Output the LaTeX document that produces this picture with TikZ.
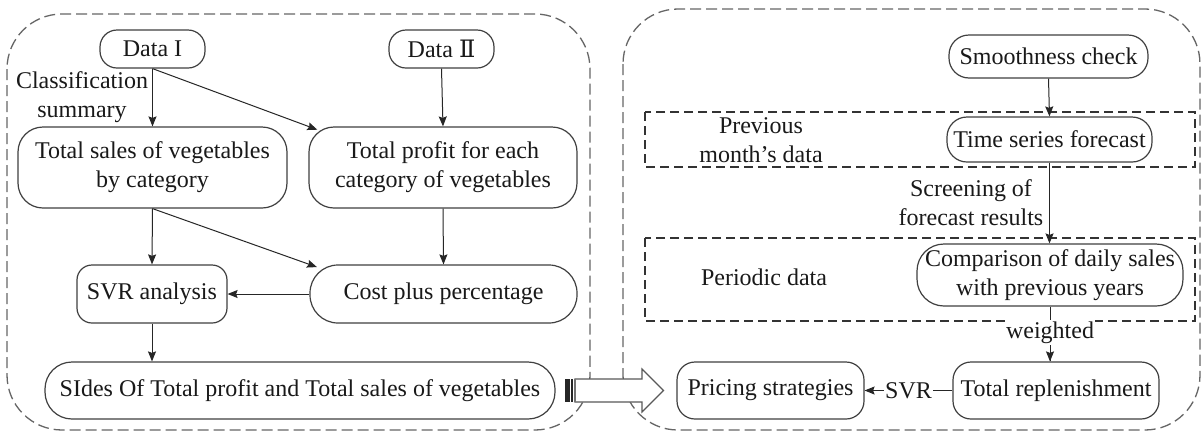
\documentclass[tikz,border=0pt]{standalone}
\usepackage{fontspec}
\setmainfont{Liberation Serif}
\newfontfamily\numfont{DejaVu Serif}
\usetikzlibrary{arrows.meta}
\begin{document}
\begin{tikzpicture}[x=1pt,y=-1pt,
  every node/.style={font=\rmfamily\fontsize{24}{29}\selectfont, align=center, text=black!90},
  nbox/.style={draw=black!75, line width=1.2pt, inner sep=0pt},
  arr/.style={draw=black!85, line width=1pt, -{Stealth[length=10pt,width=8pt,inset=1.5pt]}},
  ln/.style={draw=black!85, line width=1pt},
  outerbox/.style={draw=black!60, line width=1.3pt, dash pattern=on 11pt off 5pt, rounded corners=55pt},
  innerbox/.style={draw=black!80, line width=1.2pt, dash pattern=on 9pt off 5pt},
  lbl/.style={inner sep=1pt},
  onln/.style={fill=white, inner sep=1.5pt}]
\useasboundingbox (0,0) rectangle (1203,432);
\fill[white] (0,0) rectangle (1203,432);

% outer boxes
\draw[outerbox] (7,14) rectangle (590,430);
\draw[outerbox] (623,9) rectangle (1200,430);

% inner dashed rectangles (right)
\draw[innerbox] (645,112) rectangle (1195,167);
\draw[innerbox] (645,238) rectangle (1195,321);

% left nodes
\node[nbox, rounded corners=17pt, minimum width=105pt, minimum height=38pt] (d1) at (152.5,49) {Data I};
\node[nbox, rounded corners=17pt, minimum width=105pt, minimum height=38pt] (d2) at (441.5,49) {Data {\numfont Ⅱ}};
\node[nbox, rounded corners=25pt, minimum width=269pt, minimum height=81pt] (ts) at (152.5,167.5) {Total sales of vegetables\\by category};
\node[nbox, rounded corners=25pt, minimum width=268pt, minimum height=81pt] (tp) at (443,167.5) {Total profit for each\\category of vegetables};
\node[nbox, rounded corners=15pt, minimum width=150pt, minimum height=58pt] (svr) at (152,294) {SVR analysis};
\node[nbox, rounded corners=28pt, minimum width=267pt, minimum height=58pt] (cp) at (443.5,294) {Cost plus percentage};
\node[nbox, rounded corners=27pt, minimum width=510pt, minimum height=57pt] (sides) at (300,390.5) {SIdes Of Total profit and Total sales of vegetables};
\node[lbl] (cls) at (82,97.5) {Classification\\summary};

% right nodes
\node[nbox, rounded corners=20pt, minimum width=199pt, minimum height=43pt] (sm) at (1048.5,56.5) {Smoothness check};
\node[nbox, rounded corners=20pt, minimum width=205pt, minimum height=45pt] (tsf) at (1049.5,139.5) {Time series forecast};
\node[nbox, rounded corners=27pt, minimum width=266pt, minimum height=62pt] (cmp) at (1050,275) {Comparison of daily sales\\with previous years};
\node[nbox, rounded corners=18pt, minimum width=206pt, minimum height=57pt] (tr) at (1056,390.5) {Total replenishment};
\node[nbox, rounded corners=18pt, minimum width=187pt, minimum height=57pt] (ps) at (770.5,390.5) {Pricing strategies};
\node[lbl] (prev) at (761,140) {Previous\\month's data};
\node[lbl] (scr) at (971,203) {Screening of\\forecast results};
\node[lbl] (per) at (764,277) {Periodic data};

% left connectors
\draw[arr] (d1.south) -- (ts.north);
\draw[arr, shorten >=-9.5pt] (d1.south) -- (tp.north west);
\draw[arr] (d2.south) -- (tp.north);
\draw[arr] (ts.south) -- (svr.north);
\draw[arr, shorten >=-8pt] (ts.south) -- (cp.north west);
\draw[arr] (tp.south) -- (cp.north);
\draw[arr] (cp.west) -- (svr.east);
\draw[arr] (svr.south) -- (sides.north -| svr.south);

% right connectors
\draw[arr] (sm.south) -- (tsf.north);
\draw[arr] (tsf.south) -- (cmp.north -| tsf.south);
\draw[ln] (cmp.south) -- node[onln, pos=0.47] (wt) {weighted} (cmp.south |- tr.north);
\draw[arr] (wt.south) -- (cmp.south |- tr.north);
\draw[ln] (tr.west) -- node[onln, pos=0.5] (sv) {SVR} (ps.east);
\draw[arr] (sv.west) -- (ps.east);

% big hollow arrow
\filldraw[fill=white, draw=black!65, line width=1.2pt]
  (575,379) -- (642,379) -- (642,369) -- (663.5,390.5) -- (642,412) -- (642,402) -- (575,402) -- cycle;
\fill[black!85] (565,379) rectangle (569.5,402);
\fill[black!85] (570.5,379) rectangle (573,402);
\fill[black!55] (573.6,379) rectangle (575.5,402);
\end{tikzpicture}
\end{document}
